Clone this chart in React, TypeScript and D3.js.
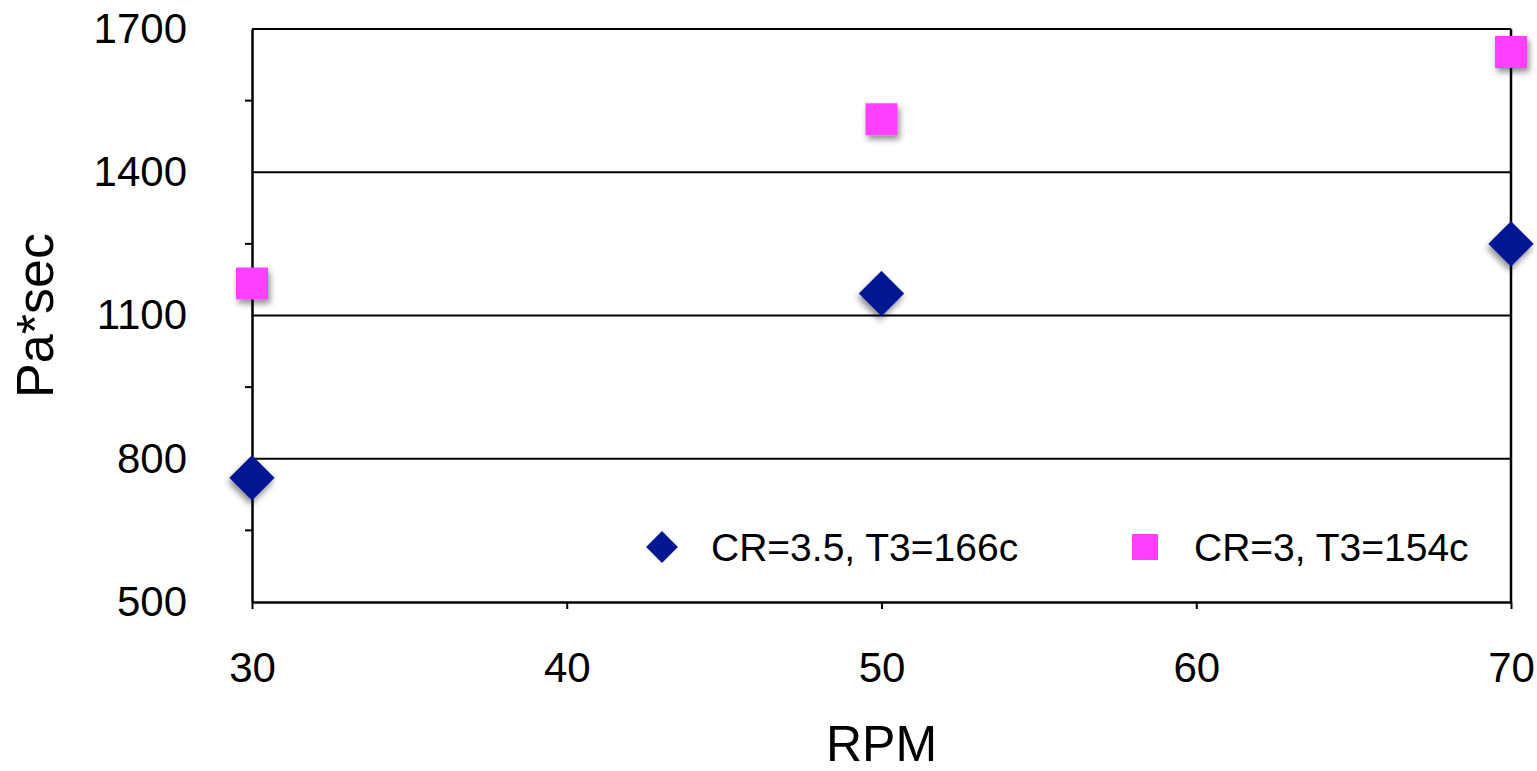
import { useEffect, useRef } from "react"
import * as d3 from "d3"

const rpm = [30, 50, 70]
const seriesA = [760, 1146, 1250]   // CR=3.5, T3=166c
const seriesB = [1167, 1511, 1652]  // CR=3, T3=154c
const seriesNames = ["CR=3.5, T3=166c", "CR=3, T3=154c"]
const yTicks = [500, 800, 1100, 1400, 1700]
const yMinorTicks = [650, 950, 1250, 1550]
const xTicks = [30, 40, 50, 60, 70]

export default function App() {

  const ref = useRef<SVGSVGElement | null>(null)

  useEffect(() => {

    const svg = d3.select(ref.current)
    svg.selectAll("*").remove()

    const width = 1537
    const height = 771
    const margin = { top: 29, right: 26, bottom: 169, left: 252 }
    const font = "'Liberation Sans', Arial, sans-serif"

    svg.attr("width", width).attr("height", height)

    const x = d3.scaleLinear()
      .domain([30, 70])
      .range([margin.left, width - margin.right])

    const y = d3.scaleLinear()
      .domain([500, 1700])
      .range([height - margin.bottom, margin.top])

    // shadow for markers
    const defs = svg.append("defs")
    defs.append("filter")
      .attr("id", "shadow")
      .attr("x", "-50%").attr("y", "-50%")
      .attr("width", "200%").attr("height", "200%")
      .append("feDropShadow")
      .attr("dx", 2).attr("dy", 4)
      .attr("stdDeviation", 3)
      .attr("flood-color", "#000")
      .attr("flood-opacity", 0.45)

    // grid lines
    svg.append("g")
      .selectAll("line")
      .data(yTicks.slice(1))
      .enter()
      .append("line")
      .attr("x1", margin.left)
      .attr("x2", width - margin.right)
      .attr("y1", d => y(d))
      .attr("y2", d => y(d))
      .attr("stroke", "#000")
      .attr("stroke-width", 2)

    // right border
    svg.append("line")
      .attr("x1", width - margin.right).attr("x2", width - margin.right)
      .attr("y1", margin.top).attr("y2", height - margin.bottom)
      .attr("stroke", "#000").attr("stroke-width", 2.5)

    // Y Axis
    const yAxis = svg.append("g")
      .attr("transform", `translate(${margin.left},0)`)
      .call(d3.axisLeft(y).tickValues(yTicks).tickSize(0).tickPadding(65).tickFormat(d3.format("d")))

    yAxis.select(".domain").attr("stroke", "#000").attr("stroke-width", 2.5)
    yAxis.selectAll("text")
      .style("fill", "#000")
      .style("font-size", "42px")
      .style("font-family", font)

    svg.append("g")
      .selectAll("line")
      .data(yMinorTicks)
      .enter()
      .append("line")
      .attr("x1", margin.left - 7)
      .attr("x2", margin.left)
      .attr("y1", d => y(d))
      .attr("y2", d => y(d))
      .attr("stroke", "#000")
      .attr("stroke-width", 2)

    // X Axis
    const xAxis = svg.append("g")
      .attr("transform", `translate(0,${height - margin.bottom})`)
      .call(d3.axisBottom(x).tickValues(xTicks).tickSize(7).tickSizeOuter(0).tickPadding(43))

    xAxis.select(".domain").attr("stroke", "#000").attr("stroke-width", 2.5)
    xAxis.selectAll("line").attr("stroke", "#000").attr("stroke-width", 2)
    xAxis.selectAll("text")
      .style("fill", "#000")
      .style("font-size", "42px")
      .style("font-family", font)

    // axis titles
    svg.append("text")
      .attr("x", x(50))
      .attr("y", 761)
      .attr("text-anchor", "middle")
      .style("font-size", "50px")
      .style("font-family", font)
      .text("RPM")

    svg.append("text")
      .attr("transform", `translate(53,${(margin.top + height - margin.bottom) / 2}) rotate(-90)`)
      .attr("text-anchor", "middle")
      .style("font-size", "52px")
      .style("font-family", font)
      .text("Pa*sec")

    const diamond = d3.symbol().type(d3.symbolSquare).size(32 * 32)
    const square = d3.symbol().type(d3.symbolSquare).size(32 * 32)

    // Series A diamonds
    svg.append("g")
      .selectAll("path")
      .data(seriesA)
      .enter()
      .append("path")
      .attr("d", diamond()!)
      .attr("transform", (d, i) => `translate(${x(rpm[i])},${y(d)}) rotate(45)`)
      .attr("fill", "#021893")
      .attr("filter", "url(#shadow)")

    // Series B squares
    svg.append("g")
      .selectAll("path")
      .data(seriesB)
      .enter()
      .append("path")
      .attr("d", square()!)
      .attr("transform", (d, i) => `translate(${x(rpm[i])},${y(d)})`)
      .attr("fill", "#FF40FF")
      .attr("filter", "url(#shadow)")

    // Legend
    const legend = svg.append("g")
    legend.append("path")
      .attr("d", d3.symbol().type(d3.symbolSquare).size(22.5 * 22.5)()!)
      .attr("transform", "translate(662,547) rotate(45)")
      .attr("fill", "#021893")
    legend.append("text")
      .attr("x", 711).attr("y", 561)
      .style("font-size", "39px")
      .style("font-family", font)
      .text(seriesNames[0])
    legend.append("path")
      .attr("d", d3.symbol().type(d3.symbolSquare).size(26 * 26)()!)
      .attr("transform", "translate(1145,547)")
      .attr("fill", "#FF40FF")
    legend.append("text")
      .attr("x", 1194).attr("y", 561)
      .style("font-size", "39px")
      .style("font-family", font)
      .text(seriesNames[1])

  }, [])

  return <svg ref={ref} style={{ position: "absolute", left: 0, top: 0, background: "#fff" }} />
}
